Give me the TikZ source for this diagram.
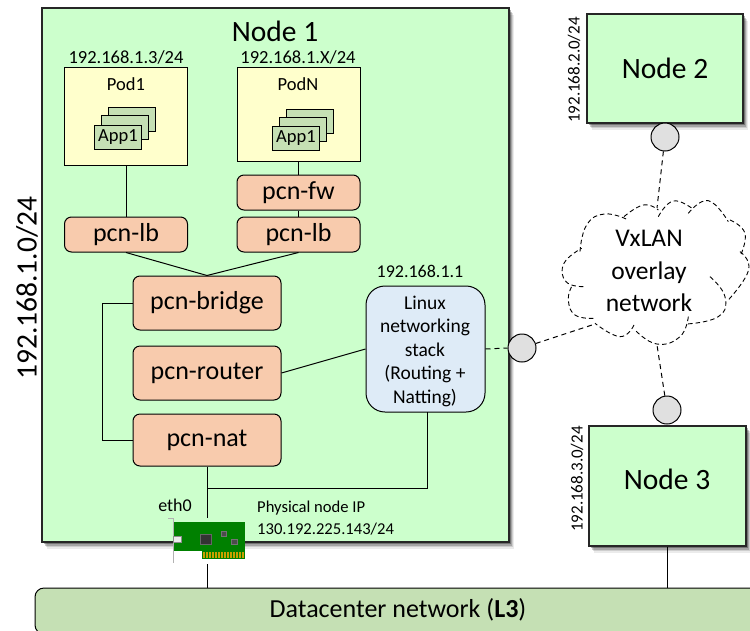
\documentclass[tikz,border=0pt]{standalone}
\usepackage{fontspec}
\setmainfont{Carlito}
\usetikzlibrary{shadows,calc}
\definecolor{nodegreen}{HTML}{CCFFCC}
\definecolor{podyellow}{HTML}{FFFFCC}
\definecolor{appgreen}{HTML}{C5E0B4}
\definecolor{pcnorange}{HTML}{F8CBAD}
\definecolor{linuxblue}{HTML}{DEEBF7}
\definecolor{circgray}{HTML}{E0E0E0}
\definecolor{pcbgreen}{HTML}{008000}
\definecolor{gold}{HTML}{C8A000}
\newcommand{\fs}[1]{\fontsize{#1pt}{#1pt}\selectfont}
\tikzset{
  softshadow/.style={
    drop shadow={shadow xshift=5pt,shadow yshift=-7pt,fill=black,opacity=.08},
    drop shadow={shadow xshift=4pt,shadow yshift=-5pt,fill=black,opacity=.12},
    drop shadow={shadow xshift=3pt,shadow yshift=-3.5pt,fill=black,opacity=.2},
    drop shadow={shadow xshift=2pt,shadow yshift=-2pt,fill=black,opacity=.3}},
  hostbox/.style={draw=black!85,line width=1.2pt,fill=nodegreen,softshadow,inner sep=0pt},
  podbox/.style={draw=black,line width=1pt,fill=podyellow,minimum width=123pt,inner sep=0pt},
  appbox/.style={draw=black,line width=1pt,fill=appgreen,minimum width=47pt,minimum height=24pt,inner sep=0pt},
  pcn/.style={draw=black,line width=1pt,fill=pcnorange,rounded corners=7pt,inner sep=0pt,font=\fs{26}},
  pcnsmall/.style={pcn,minimum width=123pt,minimum height=35pt},
  pcnbig/.style={pcn,minimum width=148pt,minimum height=54pt},
  port/.style={circle,draw=black,line width=1pt,fill=circgray,minimum size=28pt,inner sep=0pt},
  lbl/.style={inner sep=0pt},
  wire/.style={draw=black,line width=1pt},
  dashwire/.style={draw=black,line width=1pt,dash pattern=on 5pt off 4pt},
  lobe/.style={draw=black,line width=.9pt,dash pattern=on 4.5pt off 3pt},
}
\begin{document}
\begin{tikzpicture}[x=1pt,y=-1pt]
\useasboundingbox (0,0) rectangle (750,630);
\clip (0,0) rectangle (750,630);
% hosts
\node[hostbox,minimum width=467pt,minimum height=534pt] (n1) at (275.5,275) {};
\node[hostbox,minimum width=156pt,minimum height=109pt,font=\fs{29.5}] (n2) at (665,68.5) {Node 2};
\node[hostbox,minimum width=157pt,minimum height=120pt] (n3) at (667.5,486) {};
\node[lbl,font=\fs{29.5}] (n3t) at (667,479) {Node 3};
\node[lbl,font=\fs{29.5}] (n1t) at (275,31) {Node 1};
\node[lbl,rotate=90,font=\fs{29.5}] (ip1) at (27,288) {192.168.1.0/24};
\node[lbl,rotate=90,font=\fs{17}] (ip2) at (574,70) {192.168.2.0/24};
\node[lbl,rotate=90,font=\fs{17}] (ip3) at (577,479) {192.168.3.0/24};
% datacenter
\node[draw=black,line width=1pt,fill=appgreen,rounded corners=9pt,minimum width=726pt,minimum height=46pt,inner sep=0pt] (dc) at (398,611) {};
\node[lbl,font=\fs{26}] (dct) at (398,610) {Datacenter network (\textbf{L3})};
% pods
\node[podbox,minimum height=98pt] (pod1) at (126,116) {};
\node[podbox,minimum height=94pt] (podn) at (298.5,114) {};
\node[lbl,font=\fs{18.5}] (ip13) at (126,57) {192.168.1.3/24};
\node[lbl,font=\fs{18.5}] (ip1x) at (298,57) {192.168.1.X/24};
\node[lbl,font=\fs{18.5}] (p1t) at (126,84) {Pod1};
\node[lbl,font=\fs{18.5}] (pnt) at (298,84) {PodN};
\node[appbox] (a13) at (131.5,119.5) {};
\node[appbox] (a12) at (124.5,127.5) {};
\node[appbox,font=\fs{18.5}] (a11) at (118,137) {App1};
\node[appbox] (an3) at (309.5,121.5) {};
\node[appbox] (an2) at (302.5,129.5) {};
\node[appbox,font=\fs{18.5}] (an1) at (296,138.5) {App1};
% pcn
\node[pcnsmall] (lb1) at (126,234.5) {pcn-lb};
\node[pcnsmall] (lb2) at (298.5,234.5) {pcn-lb};
\node[pcnsmall] (fw) at (298.5,192.5) {pcn-fw};
\node[pcnbig] (bridge) at (207,303) {pcn-bridge};
\node[pcnbig] (router) at (207,373) {pcn-router};
\node[pcnbig,minimum height=52pt] (nat) at (207,440) {pcn-nat};
\node[draw=black,line width=1pt,fill=linuxblue,rounded corners=19pt,minimum width=119pt,minimum height=126pt,inner sep=0pt] (linux) at (425.5,349) {};
\node[lbl,align=center,font=\fs{19.5}] (linuxt) at (425,351) {Linux\\[4pt]networking\\[4pt]stack\\[4pt](Routing +\\[4pt]Natting)};
\node[lbl,font=\fs{18}] (ipl) at (420,271) {192.168.1.1};
\node[lbl,font=\fs{18}] (eth) at (175,505) {eth0};
\node[lbl,font=\fs{16.6},align=left,anchor=west] (phys) at (257,518) {Physical node IP\\[5.4pt]130.192.225.143/24};
% NIC
\node[minimum width=78pt,minimum height=46pt,inner sep=0pt] (nic) at (207,541) {};
\fill[pcbgreen] (174,522) rectangle (245,551);
\fill[pcbgreen] (202,551) rectangle (245,559);
\fill[gold] (203,552) rectangle (245,558);
\foreach \i in {0,...,13}{\fill[pcbgreen] ({204.5+\i*3},552) rectangle ({205.5+\i*3},558);}
\draw[black!30,line width=1pt] (168,518) -- (173,518) -- (173,563);
\fill[black!8] (173,536) rectangle (181,542);
\draw[black!45,line width=.5pt] (173,536) rectangle (181,542);
\fill[black!80,draw=black!60] (200,534) rectangle (211,544);
\fill[black!70,draw=black!55] (221,531) rectangle (226,536);
\fill[black!70,draw=black!55] (231,539) rectangle (237,544);
% connectors
\draw[wire] (pod1.south) -- (lb1.north);
\draw[wire] (podn.south) -- (fw.north);
\draw[wire] (fw.south) -- (lb2.north);
\draw[wire] (lb1.south) -- (bridge.north);
\draw[wire] (lb2.south) -- (bridge.north);
\draw[wire] (bridge.west) -- ++(-30,0) |- (nat.west);
\draw[wire] (router.east) -- (linux.west);
\draw[wire] (nat.south) -- (nic.north);
\draw[wire] (nic.south) -- (nic.south |- dc.north);
\coordinate (ljoin) at (207,488);
\coordinate (lfoot) at (427,412);
\draw[wire] (lfoot) -- (427,488) -- (ljoin);
\draw[wire] (n3.south) -- (n3.south |- dc.north);
% ports
\node[port] (pl) at (522,348) {};
\node[port] (p2) at (665,137) {};
\node[port] (p3) at (667,410) {};
\draw[dashwire] (linux.east) -- (pl.west);
\coordinate (cl) at (595,324);
\coordinate (ct) at (657,208);
\coordinate (cb) at (657,345);
\draw[dashwire] (pl) -- (cl);
\draw[dashwire] (p2) -- (ct);
\draw[dashwire] (p3) -- (cb);
% cloud
\begin{scope}[shift={(480,120)},x=.3333pt,y=-.3333pt]
\draw[lobe] plot[smooth,tension=.8] coordinates {(300,395)(320,315)(375,282)(445,300)};
\draw[lobe] plot[smooth,tension=.8] coordinates {(432,290)(490,255)(535,270)};
\draw[lobe] plot[smooth,tension=.8] coordinates {(535,290)(580,243)(640,268)};
\draw[lobe] plot[smooth,tension=.8] coordinates {(625,280)(685,242)(745,305)};
\draw[lobe] plot[smooth,tension=.8] coordinates {(750,300)(795,340)(780,410)};
\draw[lobe] plot[smooth,tension=.8] coordinates {(780,395)(806,450)(745,540)};
\draw[lobe] plot[smooth,tension=.8] coordinates {(690,470)(735,530)(715,590)(620,612)};
\draw[lobe] plot[smooth,tension=.8] coordinates {(625,590)(600,650)(530,672)(465,630)};
\draw[lobe] plot[smooth,tension=.8] coordinates {(462,615)(420,650)(345,610)};
\draw[lobe] plot[smooth,tension=.8] coordinates {(340,595)(285,585)(265,540)(275,500)};
\draw[lobe] plot[smooth,tension=.8] coordinates {(310,500)(258,485)(252,430)(305,385)};
\end{scope}
\node[lbl,align=center,font=\fs{25.5}] (cloudt) at (649,271) {VxLAN\\[7pt]overlay\\[7pt]network};
\end{tikzpicture}
\end{document}
